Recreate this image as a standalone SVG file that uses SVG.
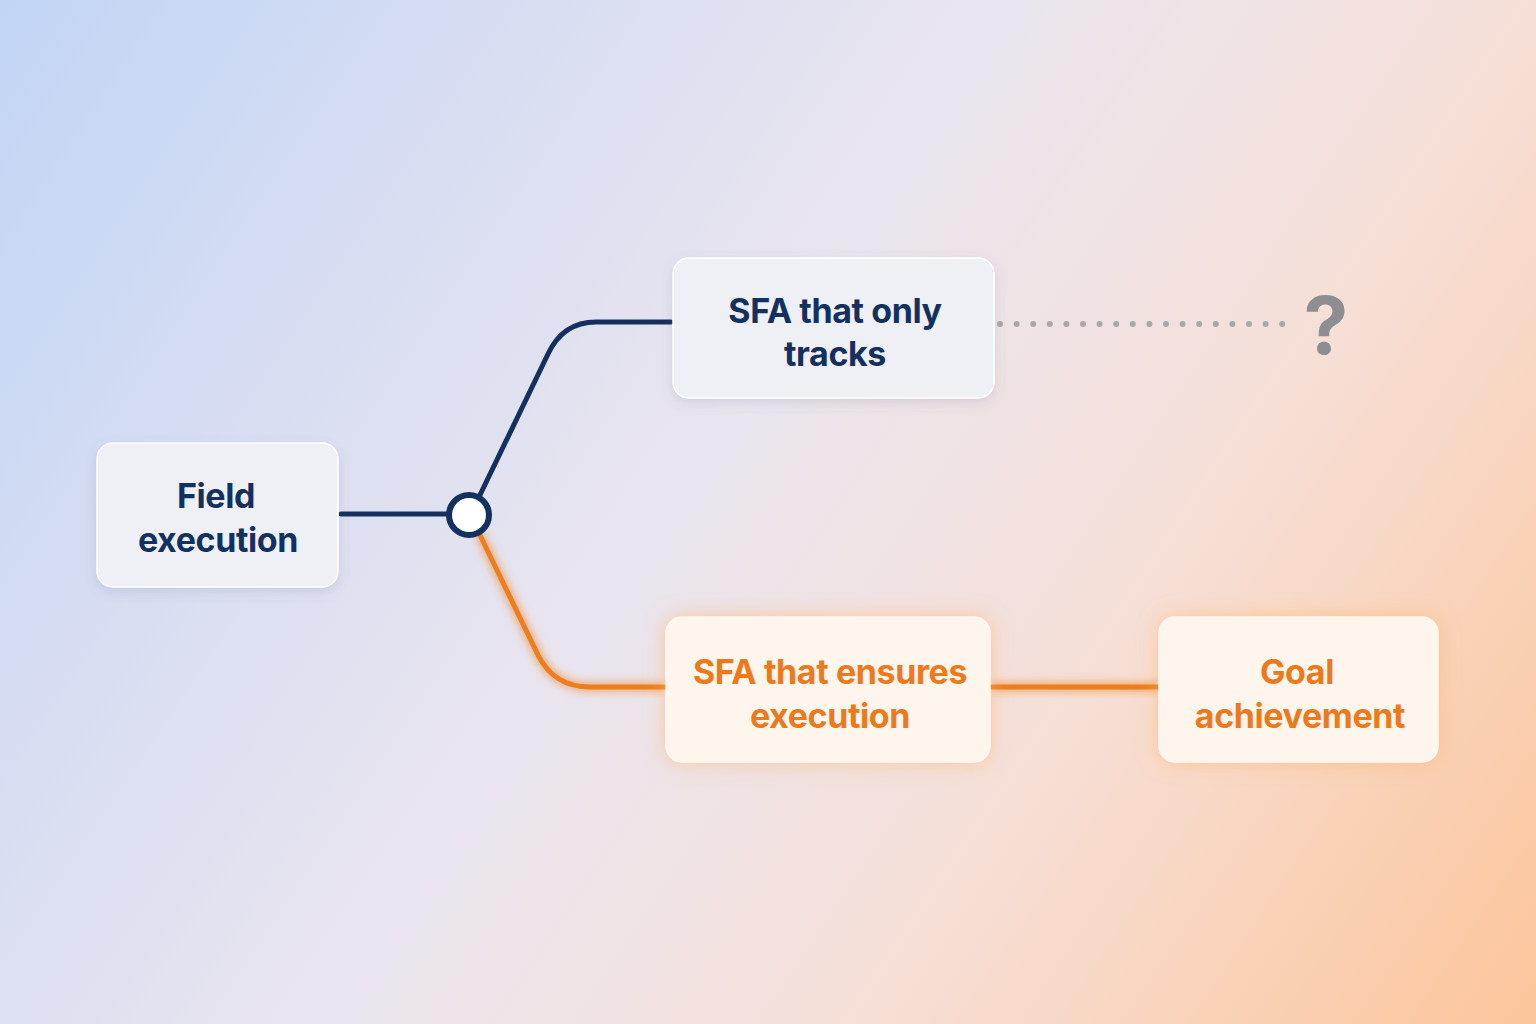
<svg xmlns="http://www.w3.org/2000/svg" width="1536" height="1024" viewBox="0 0 1536 1024">
<defs>
<linearGradient id="bg" x1="0" y1="0" x2="1536" y2="1024" gradientUnits="userSpaceOnUse">
<stop offset="0" stop-color="#c2d5f5"/>
<stop offset="0.45" stop-color="#e9e5ef"/>
<stop offset="0.7" stop-color="#f6dfd6"/>
<stop offset="1" stop-color="#fcc59a"/>
</linearGradient>
<filter id="shadow" x="-20%" y="-20%" width="140%" height="150%">
<feDropShadow dx="0" dy="4" stdDeviation="6" flood-color="#6a7090" flood-opacity="0.18"/>
</filter>
<filter id="glow" x="-20%" y="-30%" width="140%" height="160%">
<feGaussianBlur in="SourceAlpha" stdDeviation="10" result="b"/>
<feFlood flood-color="#ffb366" flood-opacity="0.55"/>
<feComposite in2="b" operator="in" result="g"/>
<feMerge><feMergeNode in="g"/><feMergeNode in="SourceGraphic"/></feMerge>
</filter>
<filter id="lineglow" x="-20%" y="-20%" width="140%" height="140%">
<feGaussianBlur in="SourceGraphic" stdDeviation="5" result="b"/>
<feMerge><feMergeNode in="b"/><feMergeNode in="SourceGraphic"/></feMerge>
</filter>
</defs>
<style>
.cool{fill:#eff0f6;stroke:#ffffff;stroke-width:1.5}
.warm{fill:#fef5ec;stroke:#fff8f0;stroke-width:1.5}
.t{font-family:Inter,"Noto Sans","Liberation Sans",sans-serif;font-weight:700;font-size:34px;letter-spacing:-0.4px;text-anchor:middle}
.navy{fill:#14305e}
.orange{fill:#ec7a1c}
.ln{fill:none;stroke-width:5;stroke-linecap:round;stroke-linejoin:round}
</style>
<rect width="1536" height="1024" fill="url(#bg)"/>
<g id="connectors">
<path class="ln" stroke="#14305e" d="M341 514 H449"/>
<path class="ln" stroke="#14305e" d="M479 497 L548 354 Q563 322 596 322 H671"/>
<g filter="url(#lineglow)">
<path class="ln" stroke="#ee7d1c" d="M479 533 L538 655 Q554 687 590 687 H664"/>
<path class="ln" stroke="#ee7d1c" d="M992 687 H1158"/>
</g>
<path fill="none" stroke="#a8a8ab" stroke-width="6" stroke-linecap="round" stroke-dasharray="0 16.6" d="M1000 324 H1284"/>
</g>
<g id="junction">
<circle cx="469" cy="515" r="20" fill="#ffffff" stroke="#14305e" stroke-width="6"/>
</g>
<g id="node-field">
<rect class="cool" x="97" y="443" width="241" height="144" rx="16" filter="url(#shadow)"/>
<text class="t navy" x="216" y="508">Field</text>
<text class="t navy" x="218" y="552">execution</text>
</g>
<g id="node-tracks">
<rect class="cool" x="673" y="258" width="321" height="140" rx="16" filter="url(#shadow)"/>
<text class="t navy" x="835" y="323">SFA that only</text>
<text class="t navy" x="835" y="366">tracks</text>
</g>
<g id="question">
<text x="1326" y="354" font-family="Inter,'Liberation Sans',sans-serif" font-weight="700" font-size="80" fill="#8e8e92" text-anchor="middle">?</text>
</g>
<g id="node-ensures">
<rect class="warm" x="666" y="617" width="324" height="145" rx="16" filter="url(#glow)"/>
<text class="t orange" x="830" y="684">SFA that ensures</text>
<text class="t orange" x="830" y="728">execution</text>
</g>
<g id="node-goal">
<rect class="warm" x="1159" y="617" width="279" height="145" rx="16" filter="url(#glow)"/>
<text class="t orange" x="1297" y="684">Goal</text>
<text class="t orange" x="1300" y="728">achievement</text>
</g>
</svg>
